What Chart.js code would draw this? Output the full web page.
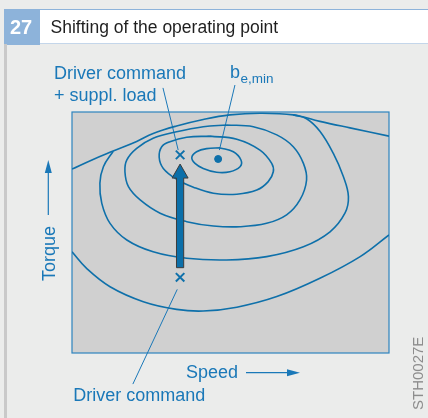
<!DOCTYPE html>
<html>
<head>
<meta charset="utf-8">
<script src="https://cdn.jsdelivr.net/npm/chart.js@4.4.1/dist/chart.umd.min.js"></script>
<style>
  body { margin: 0; background: #ebeceb; width: 428px; height: 418px; overflow: hidden; position: relative; }
  #band { position: absolute; left: 4px; top: 9px; width: 424px; height: 33px; background: #fff;
          border-top: 1.5px solid #8db3da; border-bottom: 1px solid #c4d6ea; }
  #num { position: absolute; left: 4px; top: 9px; width: 36px; height: 35.5px; background: #8db3da; }
  #rail { position: absolute; left: 4px; top: 44px; width: 2.5px; height: 374px; background: #c9c9c9; }
  #wrap { position: absolute; left: 0; top: 0; width: 428px; height: 418px; }
  .txt { position: absolute; font-family: 'Liberation Sans', Arial, sans-serif; white-space: nowrap; }
  .lbl { font-size: 18px; line-height: 18px; color: #1a78b8; }
</style>
</head>
<body>
<div id="band"></div>
<div id="num"></div>
<div id="rail"></div>
<div id="wrap"><canvas id="mapChart" width="428" height="418"></canvas></div>

<div class="txt" style="left:10px;top:16.6px;font-size:20px;line-height:20px;font-weight:bold;color:#fff">27</div>
<div class="txt" style="left:50.5px;top:18.6px;font-size:17.5px;line-height:17.5px;color:#1f1f1f">Shifting of the operating point</div>

<div class="txt lbl" style="left:54px;top:63.8px">Driver command</div>
<div class="txt lbl" style="left:54px;top:85.5px">+ suppl. load</div>
<div class="txt lbl" style="left:230px;top:63.3px">b</div>
<div class="txt lbl" style="left:240.5px;top:72px;font-size:13.5px;line-height:13.5px">e,min</div>
<div class="txt lbl" style="left:73.3px;top:386.3px">Driver command</div>
<div class="txt lbl" style="left:186px;top:363px">Speed</div>
<div class="txt lbl" style="left:39.8px;top:280.5px;transform:rotate(-90deg);transform-origin:0 0">Torque</div>
<div class="txt" style="left:410.3px;top:410px;font-size:15px;line-height:15px;color:#8d8d8d;transform:rotate(-90deg);transform-origin:0 0">STH0027E</div>

<script>
// speed / torque in % of the map range
var topLine = [[0,76.3],[6.3,80.1],[13.0,83.8],[20.4,87.8],[25.6,91.1],[33.0,94.2],[41.4,96.9],[49.8,98.8],[59.3,99.5],[69.8,98.8],[78.2,96.1],[87.7,93.4],[100,90.0]];
var contour4 = [[13.0,83.7],[9.9,77.3],[8.8,70.4],[9.4,62.1],[12.0,53.8],[17.3,46.9],[25.6,42.0],[36.2,39.3],[48.8,38.6],[61.4,40.0],[73.0,44.1],[81.4,50.3],[86.1,58.0],[87.2,64.9],[85.6,73.2],[82.4,82.9],[78.2,92.0],[74.0,97.2],[69.8,98.8]];
var contour3 = [[48.8,94.6],[57.2,93.9],[64.6,90.5],[69.8,85.6],[73.0,78.7],[74.0,71.8],[71.9,63.5],[67.7,57.3],[61.4,53.8],[53.0,52.4],[44.6,52.7],[36.2,54.5],[27.8,58.0],[21.5,63.5],[17.8,69.0],[16.7,75.2],[17.3,80.1],[20.4,84.9],[25.6,89.1],[33.0,91.8],[41.4,93.9],[48.8,94.6]];
var contour2 = [[43.5,90.0],[52.0,88.7],[59.3,84.2],[63.0,78.7],[63.5,75.2],[61.9,71.1],[58.3,67.6],[52.0,65.9],[44.6,66.3],[38.3,68.8],[33.0,72.1],[28.8,76.6],[27.5,81.2],[28.3,85.6],[30.9,87.7],[36.2,89.5],[43.5,90.0]];
var contour1 = [[46.7,85.1],[50.9,83.5],[53.3,80.1],[53.0,77.3],[49.8,75.2],[45.6,75.0],[41.4,76.6],[38.8,78.7],[37.8,81.2],[39.3,83.5],[42.5,84.8],[46.7,85.1]];
var contour5 = [[0,42.0],[4.6,35.1],[12.0,27.5],[22.5,21.3],[33.0,18.1],[41.4,17.4],[52.0,19.0],[64.6,23.4],[78.2,31.0],[90.9,40.0],[100,49.0]];

var bMin = [[46.1,80.5]];
var operatingPoints = [[34.1,82.2],[34.1,31.4]];   // with suppl. load, driver command
var shiftArrow = [[34.1,35.4],[34.1,78.4]];

var leaderLoad = [[28.7,110.0],[33.5,84.2]];
var leaderMin = [[51.4,111.2],[46.5,84.2]];
var leaderDriver = [[33.2,26.4],[19.2,-12.9]];

var lineBlue = '#0e70aa';
var textBlue = '#1a78b8';

function pts(a) {
	return a.map(function (p) { return { x: p[0], y: p[1] }; });
}

function contour(a) {
	return { data: pts(a), showLine: true, borderColor: lineBlue, borderWidth: 1.6, pointRadius: 0, tension: 0.4, fill: false };
}

function leader(a) {
	return { data: pts(a), showLine: true, borderColor: textBlue, borderWidth: 1, pointRadius: 0, tension: 0, clip: false };
}

var mapPlugin = {
	id: 'mapPlugin',
	beforeDatasetsDraw: function (chart) {
		var ctx = chart.ctx, a = chart.chartArea;
		ctx.save();
		ctx.fillStyle = '#d0d0d0';
		ctx.fillRect(a.left, a.top, a.right - a.left, a.bottom - a.top);
		ctx.strokeStyle = '#2d84bf';
		ctx.lineWidth = 1.2;
		ctx.strokeRect(a.left, a.top, a.right - a.left, a.bottom - a.top);
		ctx.restore();
	},
	afterDatasetsDraw: function (chart) {
		var ctx = chart.ctx, xs = chart.scales.x, ys = chart.scales.y;
		var x = xs.getPixelForValue(shiftArrow[0][0]);
		var yb = ys.getPixelForValue(shiftArrow[0][1]);
		var yt = ys.getPixelForValue(shiftArrow[1][1]);
		ctx.save();
		ctx.beginPath();
		ctx.moveTo(x - 3.6, yb);
		ctx.lineTo(x - 3.6, yt + 14);
		ctx.lineTo(x - 8, yt + 14);
		ctx.lineTo(x, yt);
		ctx.lineTo(x + 8, yt + 14);
		ctx.lineTo(x + 3.6, yt + 14);
		ctx.lineTo(x + 3.6, yb);
		ctx.closePath();
		ctx.fillStyle = '#0b6fa9';
		ctx.fill();
		ctx.strokeStyle = '#3c3c3c';
		ctx.lineWidth = 1;
		ctx.stroke();

		// axis direction arrows
		var a = chart.chartArea;
		ctx.strokeStyle = textBlue;
		ctx.fillStyle = textBlue;
		ctx.lineWidth = 1.2;
		ctx.beginPath();
		ctx.moveTo(246, a.bottom + 19.7);
		ctx.lineTo(290, a.bottom + 19.7);
		ctx.stroke();
		ctx.beginPath();
		ctx.moveTo(300, a.bottom + 19.7);
		ctx.lineTo(287, a.bottom + 16.2);
		ctx.lineTo(287, a.bottom + 23.2);
		ctx.closePath();
		ctx.fill();
		ctx.beginPath();
		ctx.moveTo(48.3, 215);
		ctx.lineTo(48.3, 170);
		ctx.stroke();
		ctx.beginPath();
		ctx.moveTo(48.3, 160);
		ctx.lineTo(44.8, 173);
		ctx.lineTo(51.8, 173);
		ctx.closePath();
		ctx.fill();
		ctx.restore();
	}
};

function loadMapChart() {
	var el = document.getElementById('mapChart');
	var mapChart = new Chart(el, {
		type: 'scatter',
		data: {
			datasets: [
				contour(topLine),
				contour(contour4),
				contour(contour3),
				contour(contour2),
				contour(contour1),
				contour(contour5),
				leader(leaderLoad),
				leader(leaderMin),
				leader(leaderDriver),
				{
					data: pts(operatingPoints),
					pointStyle: 'crossRot',
					pointRadius: 6,
					borderWidth: 2,
					borderColor: lineBlue
				},
				{
					data: pts(bMin),
					pointStyle: 'circle',
					pointRadius: 3.5,
					backgroundColor: lineBlue,
					borderColor: lineBlue
				}
			]
		},
		options: {
			responsive: false,
			animation: false,
			devicePixelRatio: 1,
			layout: { padding: { left: 72, right: 39, top: 112, bottom: 65 } },
			scales: {
				x: { type: 'linear', min: 0, max: 100, display: false },
				y: { type: 'linear', min: 0, max: 100, display: false }
			},
			plugins: {
				legend: { display: false },
				tooltip: { enabled: false }
			}
		},
		plugins: [mapPlugin]
	});
	window.mapChart = mapChart;
}
loadMapChart();
</script>
</body>
</html>
